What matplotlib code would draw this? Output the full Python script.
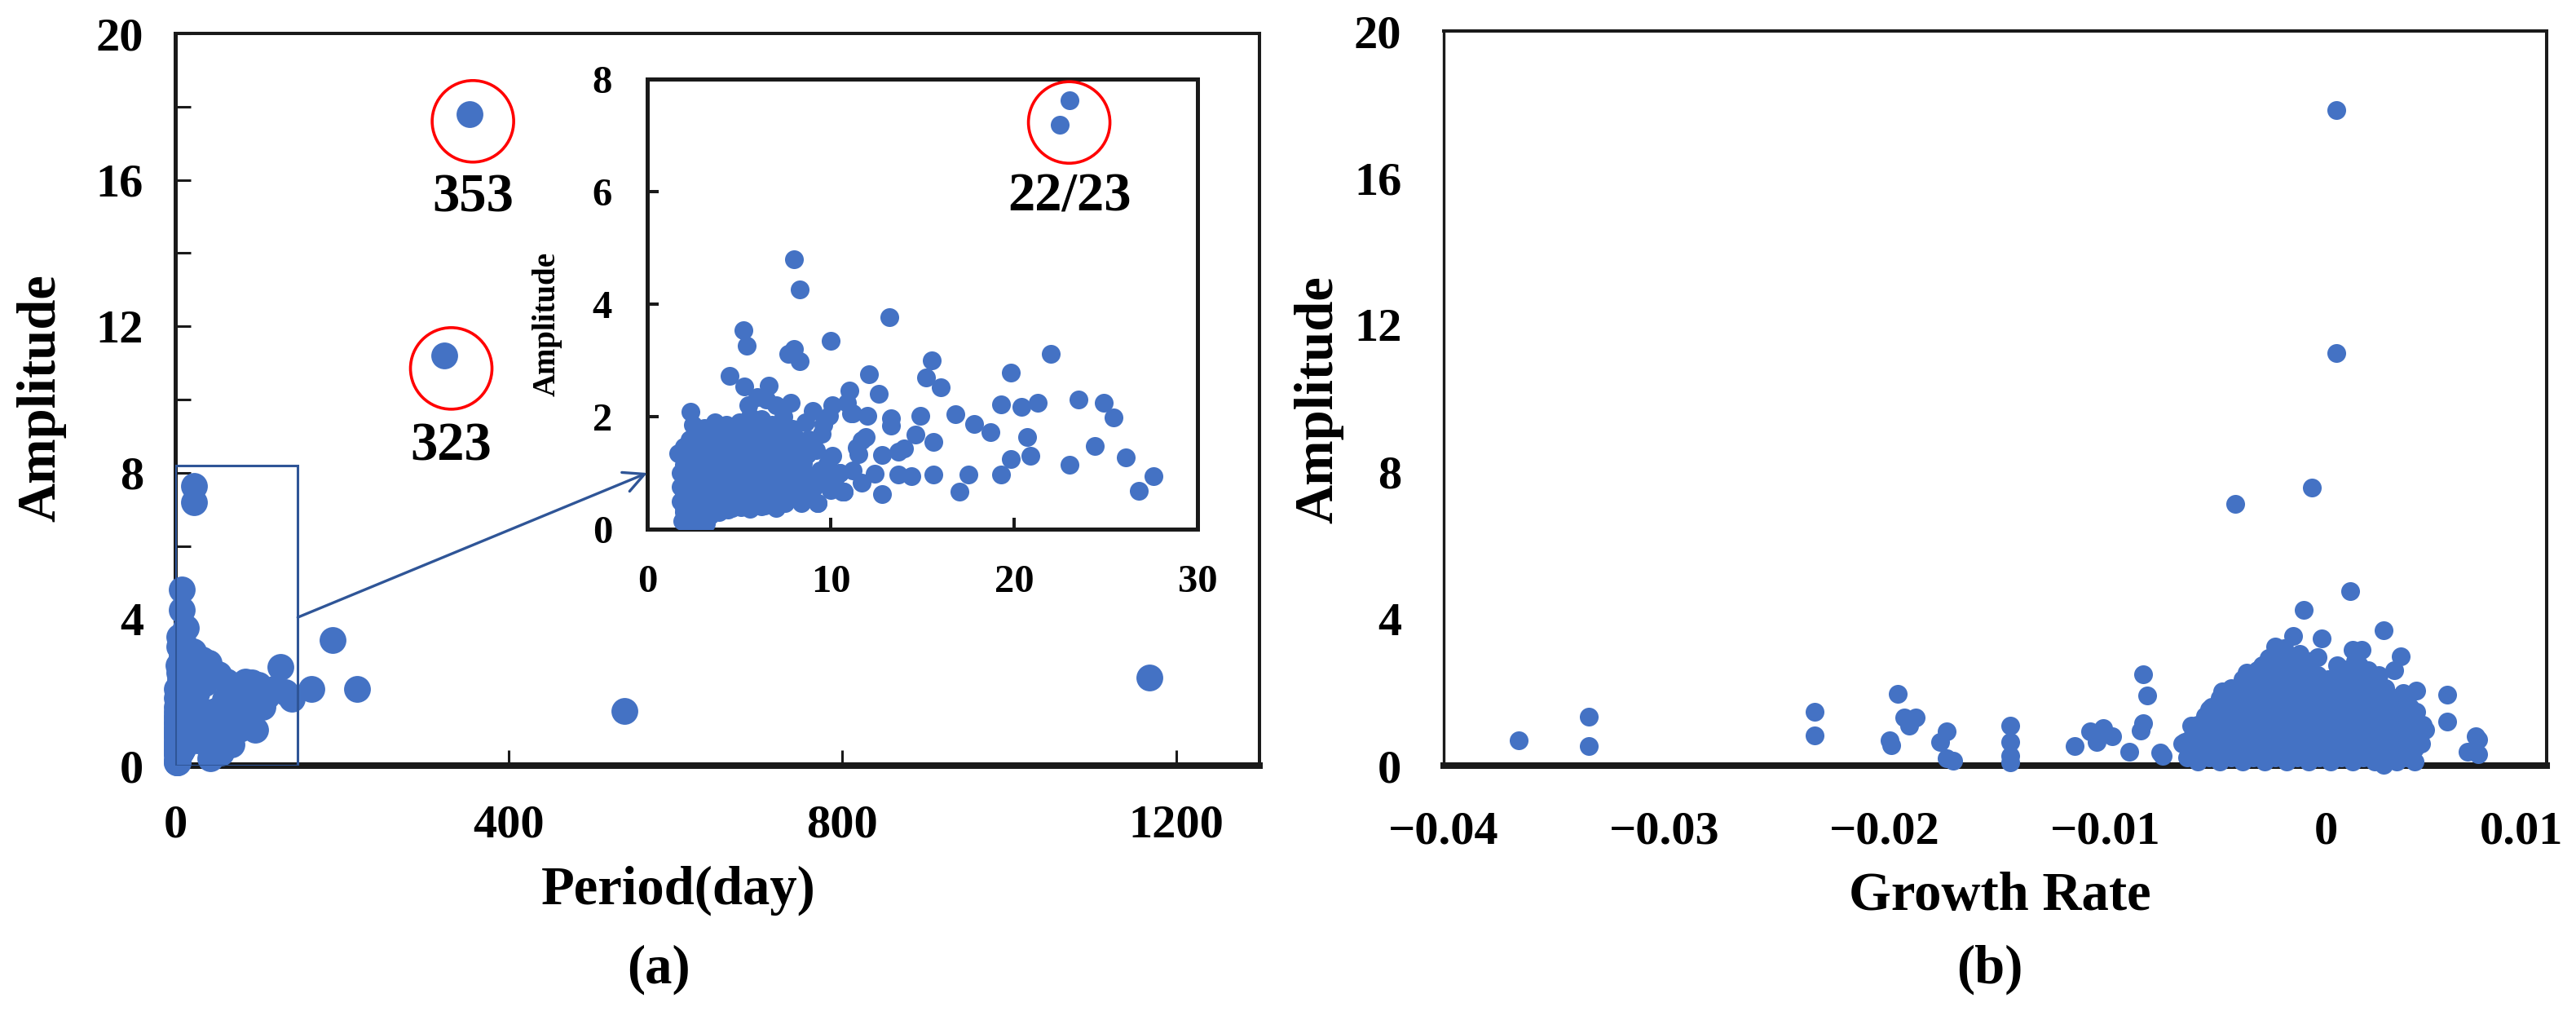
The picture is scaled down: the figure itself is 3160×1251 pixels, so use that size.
import matplotlib.pyplot as plt
from matplotlib.patches import Rectangle, ConnectionPatch
from matplotlib.transforms import ScaledTranslation

plt.rcParams['font.family'] = ['Liberation Serif', 'DejaVu Serif']
plt.rcParams['font.weight'] = 'bold'

BLUE = '#4472C4'
BOX_BLUE = '#2F5597'

# ---- (a) period vs amplitude (same points feed the main plot and the inset) ----
period = [
    1.9, 2.2, 2.6, 3.0, 3.4, 3.9, 4.4, 2.0, 2.4, 2.8, 3.2, 2.5,
    2.0, 2.5, 3.0, 3.5, 4.0, 4.6, 5.1, 5.6, 6.2, 7.0,
    1.8, 2.2, 2.7, 3.2, 3.7, 4.2, 4.8, 5.3, 5.9, 6.4, 6.9, 7.5, 8.4, 9.3,
    2.0, 2.5, 3.0, 3.5, 4.0, 4.5, 5.1, 5.7, 6.3, 7.0, 7.6, 8.2, 8.9,
    1.8, 2.3, 2.8, 3.3, 3.8, 4.3, 4.9, 5.5, 6.1, 6.7, 7.3, 7.9, 8.5, 9.1, 9.6, 10.0, 10.7,
    2.0, 2.5, 3.0, 3.5, 4.0, 4.6, 5.2, 5.8, 6.4, 7.0, 7.6, 8.2, 8.8, 9.4, 10.2,
    1.8, 2.2, 2.7, 3.2, 3.7, 4.2, 4.7, 5.2, 5.8, 6.4, 7.0, 7.6, 8.2, 8.8, 9.4, 10.5, 11.2,
    2.0, 2.5, 3.0, 3.5, 4.0, 4.5, 5.0, 5.6, 6.2, 6.8, 7.4, 8.0, 8.5, 9.8,
    1.7, 2.3, 2.8, 3.3, 3.8, 4.3, 4.9, 5.5, 6.0, 6.6, 7.2, 7.8, 8.7, 9.2, 10.1,
    2.0, 2.6, 3.1, 3.6, 4.1, 4.7, 5.3, 5.9, 6.5, 7.1, 7.7, 8.4, 9.0,
    2.3, 2.9, 3.4, 3.9, 4.5, 5.1, 5.7, 6.3, 6.9, 7.5, 8.1, 8.8, 9.5,
    2.6, 3.2, 3.8, 4.4, 5.0, 5.5, 6.1, 6.6, 7.2, 7.9,
    2.5, 3.1, 3.7, 4.3, 5.0, 5.6, 6.2, 6.8, 7.4, 8.6, 9.6,
    2.35, 5.5, 6.0, 6.5, 7.0, 7.8, 9.0, 5.3, 6.6,
    23.0, 22.5, 8.0, 8.3, 13.2, 5.25, 5.4, 10.0, 4.5, 7.7, 8.0, 8.3,
    22.0, 19.8, 15.5, 15.2, 16.0, 12.1, 12.6, 11.0, 23.5, 24.9, 25.4, 21.3, 20.4, 19.3,
    16.8, 17.8, 18.7, 14.9, 13.3, 20.7, 24.4, 20.9, 19.8, 23.0, 26.1, 27.6, 26.8,
    19.3, 17.5, 17.0, 15.6, 14.4, 13.7, 12.8, 11.7, 12.4, 12.8, 13.7, 14.6, 15.6,
    10.6, 11.4, 11.9, 11.1, 10.1, 9.9, 10.9, 12.0, 11.2, 13.3, 14.0, 11.5, 11.7, 10.5, 8.7, 9.3, 10.7,
    35, 42, 52, 55, 65, 68, 74, 77, 86, 92, 96, 110, 126, 140, 45, 60, 38, 48, 58, 70, 80, 100, 105, 118, 132,
    32, 33, 40, 50, 62, 84,
    163, 189, 218, 323, 353, 539, 1168,
]
amplitude = [
    0.15, 0.10, 0.20, 0.15, 0.25, 0.30, 0.35, 0.30, 0.35, 0.30, 0.10, 0.08,
    0.38, 0.40, 0.36, 0.38, 0.40, 0.37, 0.39, 0.36, 0.40, 0.38,
    0.50, 0.55, 0.50, 0.45, 0.50, 0.55, 0.50, 0.55, 0.50, 0.42, 0.55, 0.46, 0.46, 0.46,
    0.62, 0.64, 0.60, 0.63, 0.62, 0.65, 0.60, 0.63, 0.62, 0.64, 0.60, 0.62, 0.63,
    0.75, 0.80, 0.70, 0.80, 0.75, 0.70, 0.80, 0.75, 0.80, 0.70, 0.78, 0.72, 0.80, 0.75, 0.85, 0.70, 0.67,
    0.88, 0.90, 0.86, 0.89, 0.88, 0.91, 0.86, 0.88, 0.90, 0.87, 0.89, 0.88, 0.90, 0.86, 0.88,
    1.00, 1.05, 0.95, 1.00, 1.10, 0.95, 1.05, 1.00, 1.10, 0.95, 1.05, 1.00, 1.10, 0.95, 1.05, 1.00, 1.05,
    1.15, 1.18, 1.14, 1.16, 1.15, 1.19, 1.14, 1.16, 1.18, 1.15, 1.17, 1.15, 1.18, 1.16,
    1.35, 1.30, 1.40, 1.25, 1.35, 1.30, 1.40, 1.30, 1.45, 1.30, 1.40, 1.25, 1.33, 1.40, 1.30,
    1.47, 1.50, 1.45, 1.48, 1.47, 1.51, 1.46, 1.48, 1.50, 1.47, 1.49, 1.47, 1.50,
    1.60, 1.65, 1.55, 1.70, 1.60, 1.65, 1.75, 1.60, 1.70, 1.55, 1.62, 1.60, 1.70,
    1.75, 1.78, 1.74, 1.76, 1.80, 1.85, 1.78, 1.80, 1.76, 1.78,
    1.85, 1.80, 1.90, 1.85, 1.90, 2.00, 1.95, 1.85, 2.00, 1.90, 1.85,
    2.09, 2.20, 2.35, 2.30, 2.20, 2.24, 2.10, 2.54, 2.55,
    7.63, 7.19, 4.80, 4.26, 3.77, 3.53, 3.26, 3.35, 2.73, 3.12, 3.20, 2.98,
    3.11, 2.78, 3.00, 2.70, 2.52, 2.75, 2.41, 2.47, 2.31, 2.24, 1.99, 2.24, 2.17, 2.22,
    2.04, 1.87, 1.73, 2.01, 1.97, 1.64, 1.48, 1.30, 1.25, 1.15, 1.27, 0.94, 0.68,
    0.97, 0.97, 0.67, 0.97, 0.94, 0.97, 0.62, 0.83, 0.99, 1.32, 1.38, 1.68, 1.55,
    0.67, 1.45, 1.64, 2.06, 2.20, 2.01, 2.24, 2.01, 2.06, 1.84, 1.43, 1.33, 1.58, 1.00, 1.33, 0.46, 0.67,
    2.24, 0.20, 2.50, 0.35, 1.47, 0.57, 2.05, 1.00, 1.47, 2.28, 0.98, 1.90, 2.69, 1.83, 1.20, 1.80, 0.80, 1.50, 1.10, 1.70, 1.90, 2.20, 1.60, 2.10, 2.00,
    2.90, 1.50, 2.80, 0.90, 2.30, 2.30,
    2.09, 3.43, 2.09, 11.2, 17.8, 1.50, 2.40,
]

# ---- (b) growth rate vs amplitude ----
growth_rate = [
    0.00045, 0.00045, -0.00065, -0.0041, 0.0011, -0.0010, 0.0026, -0.0002, -0.0015, -0.0023, 0.0012, 0.0016,
    0.0034, 0.0031, -0.0026, -0.0028, 0.0007, -0.0036, 0.0017, 0.0027, 0.0041, 0.0055, 0.0055, 0.0042,
    0.0038, 0.0034, 0.0026, 0.0064, 0.0068, 0.0069, 0.0067, 0.0069, -0.0047, -0.0053, -0.0061, -0.0064, -0.0074,
    -0.0366, -0.0334, -0.0334, -0.0232, -0.0232, -0.0194, -0.0191, -0.0186, -0.0189, -0.0198, -0.0197,
    -0.0172, -0.0175, -0.0172, -0.0169, -0.0143, -0.0143, -0.0143, -0.0143, -0.0114, -0.0107, -0.0101, -0.0104, -0.0097,
    -0.0089, -0.0083, -0.0081, -0.0083, -0.0084, -0.0075,
    -0.0058, -0.0048, -0.0038, -0.0028, -0.0018, -0.0008, 0.0002, 0.0012, 0.0022, 0.0032, 0.0040,
    -0.0063, -0.0053, -0.0043, -0.0033, -0.0023, -0.0013, -0.0003, 0.0007, 0.0017, 0.0027, 0.0037,
    -0.0062, -0.0052, -0.0042, -0.0032, -0.0022, -0.0012, -0.0002, 0.0008, 0.0018, 0.0028, 0.0037,
    -0.0060, -0.0050, -0.0040, -0.0030, -0.0020, -0.0010, 0.0000, 0.0010, 0.0020, 0.0030, 0.0040,
    -0.0065, -0.0055, -0.0045, -0.0035, -0.0025, -0.0015, -0.0005, 0.0005, 0.0015, 0.0025, 0.0035, 0.0043,
    -0.0062, -0.0052, -0.0042, -0.0032, -0.0022, -0.0012, -0.0002, 0.0008, 0.0018, 0.0028, 0.0038,
    -0.0060, -0.0050, -0.0040, -0.0030, -0.0020, -0.0010, 0.0000, 0.0010, 0.0020, 0.0030, 0.0040,
    -0.0055, -0.0045, -0.0035, -0.0025, -0.0015, -0.0005, 0.0005, 0.0015, 0.0025, 0.0035, 0.0045,
    -0.0058, -0.0047, -0.0037, -0.0027, -0.0017, -0.0007, 0.0003, 0.0013, 0.0023, 0.0033, 0.0044,
    -0.0052, -0.0042, -0.0032, -0.0022, -0.0012, -0.0002, 0.0008, 0.0018, 0.0028, 0.0039,
    -0.0055, -0.0045, -0.0035, -0.0025, -0.0015, -0.0005, 0.0005, 0.0015, 0.0025, 0.0036,
    -0.0050, -0.0040, -0.0030, -0.0020, -0.0010, 0.0000, 0.0010, 0.0020, 0.0030, 0.0041,
    -0.0052, -0.0042, -0.0032, -0.0022, -0.0012, -0.0002, 0.0008, 0.0018, 0.0028, 0.0038,
    -0.0047, -0.0037, -0.0027, -0.0017, -0.0007, 0.0003, 0.0013, 0.0023, 0.0033,
    -0.0048, -0.0038, -0.0028, -0.0018, -0.0008, 0.0002, 0.0012, 0.0022, 0.0032,
    -0.0043, -0.0033, -0.0023, -0.0013, -0.0003, 0.0007, 0.0017, 0.0027, 0.0035,
    -0.0043, -0.0033, -0.0023, -0.0013, -0.0003, 0.0007, 0.0017, 0.0027,
    -0.0038, -0.0028, -0.0018, -0.0008, 0.0002, 0.0012, 0.0022,
    -0.0038, -0.0029, -0.0019, -0.0009, 0.0001, 0.0011, 0.0021,
    -0.0034, -0.0024, -0.0014, -0.0004, 0.0006, 0.0014, 0.0024,
    -0.0031, -0.0021, -0.0011, 0.0009, 0.0019,
    -0.0029, -0.0019, -0.0009, 0.0005, 0.0015,
    -0.0025, -0.0016, -0.0007, 0.0013,
    -0.0023, -0.0013, -0.0004,
    -0.0021, -0.0012, -0.0019,
]
amplitude_b = [
    17.84, 11.24, 7.56, 7.13, 4.75, 4.25, 3.69, 3.47, 3.53, 3.24, 3.16, 3.16,
    2.97, 2.60, 2.94, 2.64, 2.64, 2.53, 2.35, 2.05, 2.04, 1.94, 1.20, 1.13,
    0.58, 0.20, 0.02, 0.38, 0.80, 0.72, 0.39, 0.30, 2.01, 1.53, 1.09, 0.64, 0.27,
    0.68, 1.33, 0.53, 1.47, 0.83, 1.96, 1.31, 1.31, 1.09, 0.68, 0.55,
    0.94, 0.64, 0.20, 0.13, 1.09, 0.64, 0.27, 0.08, 0.53, 0.94, 1.02, 0.64, 0.79,
    0.38, 2.49, 1.90, 1.16, 0.96, 0.35,
    0.10, 0.10, 0.10, 0.10, 0.10, 0.10, 0.10, 0.10, 0.10, 0.10, 0.10,
    0.22, 0.22, 0.22, 0.22, 0.22, 0.22, 0.22, 0.22, 0.22, 0.22, 0.22,
    0.35, 0.35, 0.35, 0.35, 0.35, 0.35, 0.35, 0.35, 0.35, 0.35, 0.35,
    0.47, 0.47, 0.47, 0.47, 0.47, 0.47, 0.47, 0.47, 0.47, 0.47, 0.47,
    0.60, 0.60, 0.60, 0.60, 0.60, 0.60, 0.60, 0.60, 0.60, 0.60, 0.60, 0.60,
    0.72, 0.72, 0.72, 0.72, 0.72, 0.72, 0.72, 0.72, 0.72, 0.72, 0.72,
    0.85, 0.85, 0.85, 0.85, 0.85, 0.85, 0.85, 0.85, 0.85, 0.85, 0.85,
    0.97, 0.97, 0.97, 0.97, 0.97, 0.97, 0.97, 0.97, 0.97, 0.97, 0.97,
    1.10, 1.10, 1.10, 1.10, 1.10, 1.10, 1.10, 1.10, 1.10, 1.10, 1.10,
    1.22, 1.22, 1.22, 1.22, 1.22, 1.22, 1.22, 1.22, 1.22, 1.22,
    1.35, 1.35, 1.35, 1.35, 1.35, 1.35, 1.35, 1.35, 1.35, 1.35,
    1.47, 1.47, 1.47, 1.47, 1.47, 1.47, 1.47, 1.47, 1.47, 1.47,
    1.60, 1.60, 1.60, 1.60, 1.60, 1.60, 1.60, 1.60, 1.60, 1.60,
    1.72, 1.72, 1.72, 1.72, 1.72, 1.72, 1.72, 1.72, 1.72,
    1.85, 1.85, 1.85, 1.85, 1.85, 1.85, 1.85, 1.85, 1.85,
    1.97, 1.97, 1.97, 1.97, 1.97, 1.97, 1.97, 1.97, 1.97,
    2.10, 2.10, 2.10, 2.10, 2.10, 2.10, 2.10, 2.10,
    2.22, 2.22, 2.22, 2.22, 2.22, 2.22, 2.22,
    2.35, 2.35, 2.35, 2.35, 2.35, 2.35, 2.35,
    2.47, 2.47, 2.47, 2.47, 2.47, 2.47, 2.47,
    2.60, 2.60, 2.60, 2.60, 2.60,
    2.72, 2.72, 2.72, 2.72, 2.72,
    2.85, 2.85, 2.85, 2.85,
    2.95, 2.95, 2.95,
    3.05, 3.05, 3.20,
]

# red rings and their labels
ring_period = [357, 331]
ring_amp = [17.6, 10.85]
ring_text = ['353', '323']
ring_text_amp = [15.5, 8.7]
inset_ring_period = [23.0]
inset_ring_amp = [7.23]
inset_ring_text = ['22/23']
inset_ring_text_amp = [5.9]

a_xticks = [0, 400, 800, 1200]
a_yticks = [0, 4, 8, 12, 16, 20]
a_yminor = [2, 6, 10, 14, 18]
in_xticks = [0, 10, 20, 30]
in_yticks = [0, 2, 4, 6, 8]
b_xticks = [-0.04, -0.03, -0.02, -0.01, 0, 0.01]
b_xlabels = ['\u22120.04', '\u22120.03', '\u22120.02', '\u22120.01', '0', '0.01']
b_yticks = [0, 4, 8, 12, 16, 20]

# box drawn round the zoomed region
box_period = 147
box_amp = 8.2

fig = plt.figure(figsize=(31.6, 12.51), dpi=100)


def style_spines(ax, left, bottom, top, right):
    for name, w in (('left', left), ('bottom', bottom), ('top', top), ('right', right)):
        ax.spines[name].set_linewidth(w)
        ax.spines[name].set_color('#1a1a1a')


# ===== (a) main =====
ax1 = fig.add_axes([0.0680, 0.2494, 0.4209, 0.7178])
ax1.scatter(period, amplitude, s=560, color=BLUE, linewidths=0, zorder=3, clip_on=False)
ax1.set_xlim(0, 1300)
ax1.set_ylim(0, 20)
ax1.set_xticks(a_xticks)
ax1.set_yticks(a_yticks)
ax1.set_yticks(a_yminor, minor=True)
ax1.tick_params(axis='both', which='both', direction='in', length=14, width=2.2,
                labelsize=42, color='#1a1a1a')
ax1.tick_params(axis='y', pad=28)
ax1.tick_params(axis='x', pad=34)
style_spines(ax1, 3.6, 5.8, 2.9, 2.9)

ax1.add_patch(Rectangle((0, 0), box_period, box_amp, fill=False,
                        edgecolor=BOX_BLUE, linewidth=2.2, zorder=4))

ax1.scatter(ring_period, ring_amp, s=72 ** 2, facecolors='none',
            edgecolors='red', linewidths=2.6, zorder=5, clip_on=False)
for x, y, t in zip(ring_period, ring_text_amp, ring_text):
    ax1.text(x, y, t, fontsize=48, fontweight='bold', ha='center', va='center')

# ===== inset =====
axi = fig.add_axes([0.2513, 0.4812, 0.2136, 0.4412])
axi.scatter(period, amplitude, s=275, color=BLUE, linewidths=0, zorder=3)
axi.set_xlim(0, 30)
axi.set_ylim(0, 8)
axi.set_xticks(in_xticks)
axi.set_yticks(in_yticks)
axi.tick_params(axis='both', direction='in', length=10, width=2.9,
                labelsize=35, pad=31, color='#1a1a1a')
style_spines(axi, 3.6, 3.6, 3.6, 3.6)
axi.scatter(inset_ring_period, inset_ring_amp, s=72 ** 2, facecolors='none',
            edgecolors='red', linewidths=2.6, zorder=5, clip_on=False)
for x, y, t in zip(inset_ring_period, inset_ring_text_amp, inset_ring_text):
    axi.text(x, y, t, fontsize=48, fontweight='bold', ha='center', va='center')

arrow = ConnectionPatch(xyA=(box_period, 4.05), coordsA=ax1.transData,
                        xyB=(0, 1.0), coordsB=axi.transData,
                        arrowstyle='->', mutation_scale=45, linewidth=2.4,
                        color=BOX_BLUE, zorder=6)
fig.add_artist(arrow)

# ===== (b) =====
ax2 = fig.add_axes([0.5604, 0.2494, 0.4282, 0.7202])
ax2.scatter(growth_rate, amplitude_b, s=275, color=BLUE, linewidths=0, zorder=3, clip_on=False)
ax2.set_xlim(-0.04, 0.01)
ax2.set_ylim(0, 20)
ax2.set_xticks(b_xticks)
ax2.set_xticklabels(b_xlabels)
ax2.set_yticks(b_yticks)
ax2.tick_params(axis='both', length=0, labelsize=42)
ax2.tick_params(axis='y', pad=37)
ax2.tick_params(axis='x', pad=40)
style_spines(ax2, 2.4, 5.8, 2.9, 2.9)

# last x label sits pulled in from the right edge, as in the original
last = ax2.get_xticklabels()[-1]
last.set_transform(last.get_transform() + ScaledTranslation(-0.31, 0, fig.dpi_scale_trans))

# ===== labels =====
fig.text(0.0161, 0.610, 'Amplitude', rotation=90, fontsize=48, fontweight='bold',
         ha='center', va='center')
fig.text(0.2123, 0.6827, 'Amplitude', rotation=90, fontsize=28, fontweight='bold',
         ha='center', va='center')
fig.text(0.512, 0.608, 'Amplitude', rotation=90, fontsize=48, fontweight='bold',
         ha='center', va='center')
fig.text(0.2633, 0.1271, 'Period(day)', fontsize=48, fontweight='bold', ha='center', va='center')
fig.text(0.7763, 0.1215, 'Growth Rate', fontsize=48, fontweight='bold', ha='center', va='center')
fig.text(0.2557, 0.0496, '(a)', fontsize=48, fontweight='bold', ha='center', va='center')
fig.text(0.7725, 0.0496, '(b)', fontsize=48, fontweight='bold', ha='center', va='center')

fig.savefig('out.png', dpi=100)
